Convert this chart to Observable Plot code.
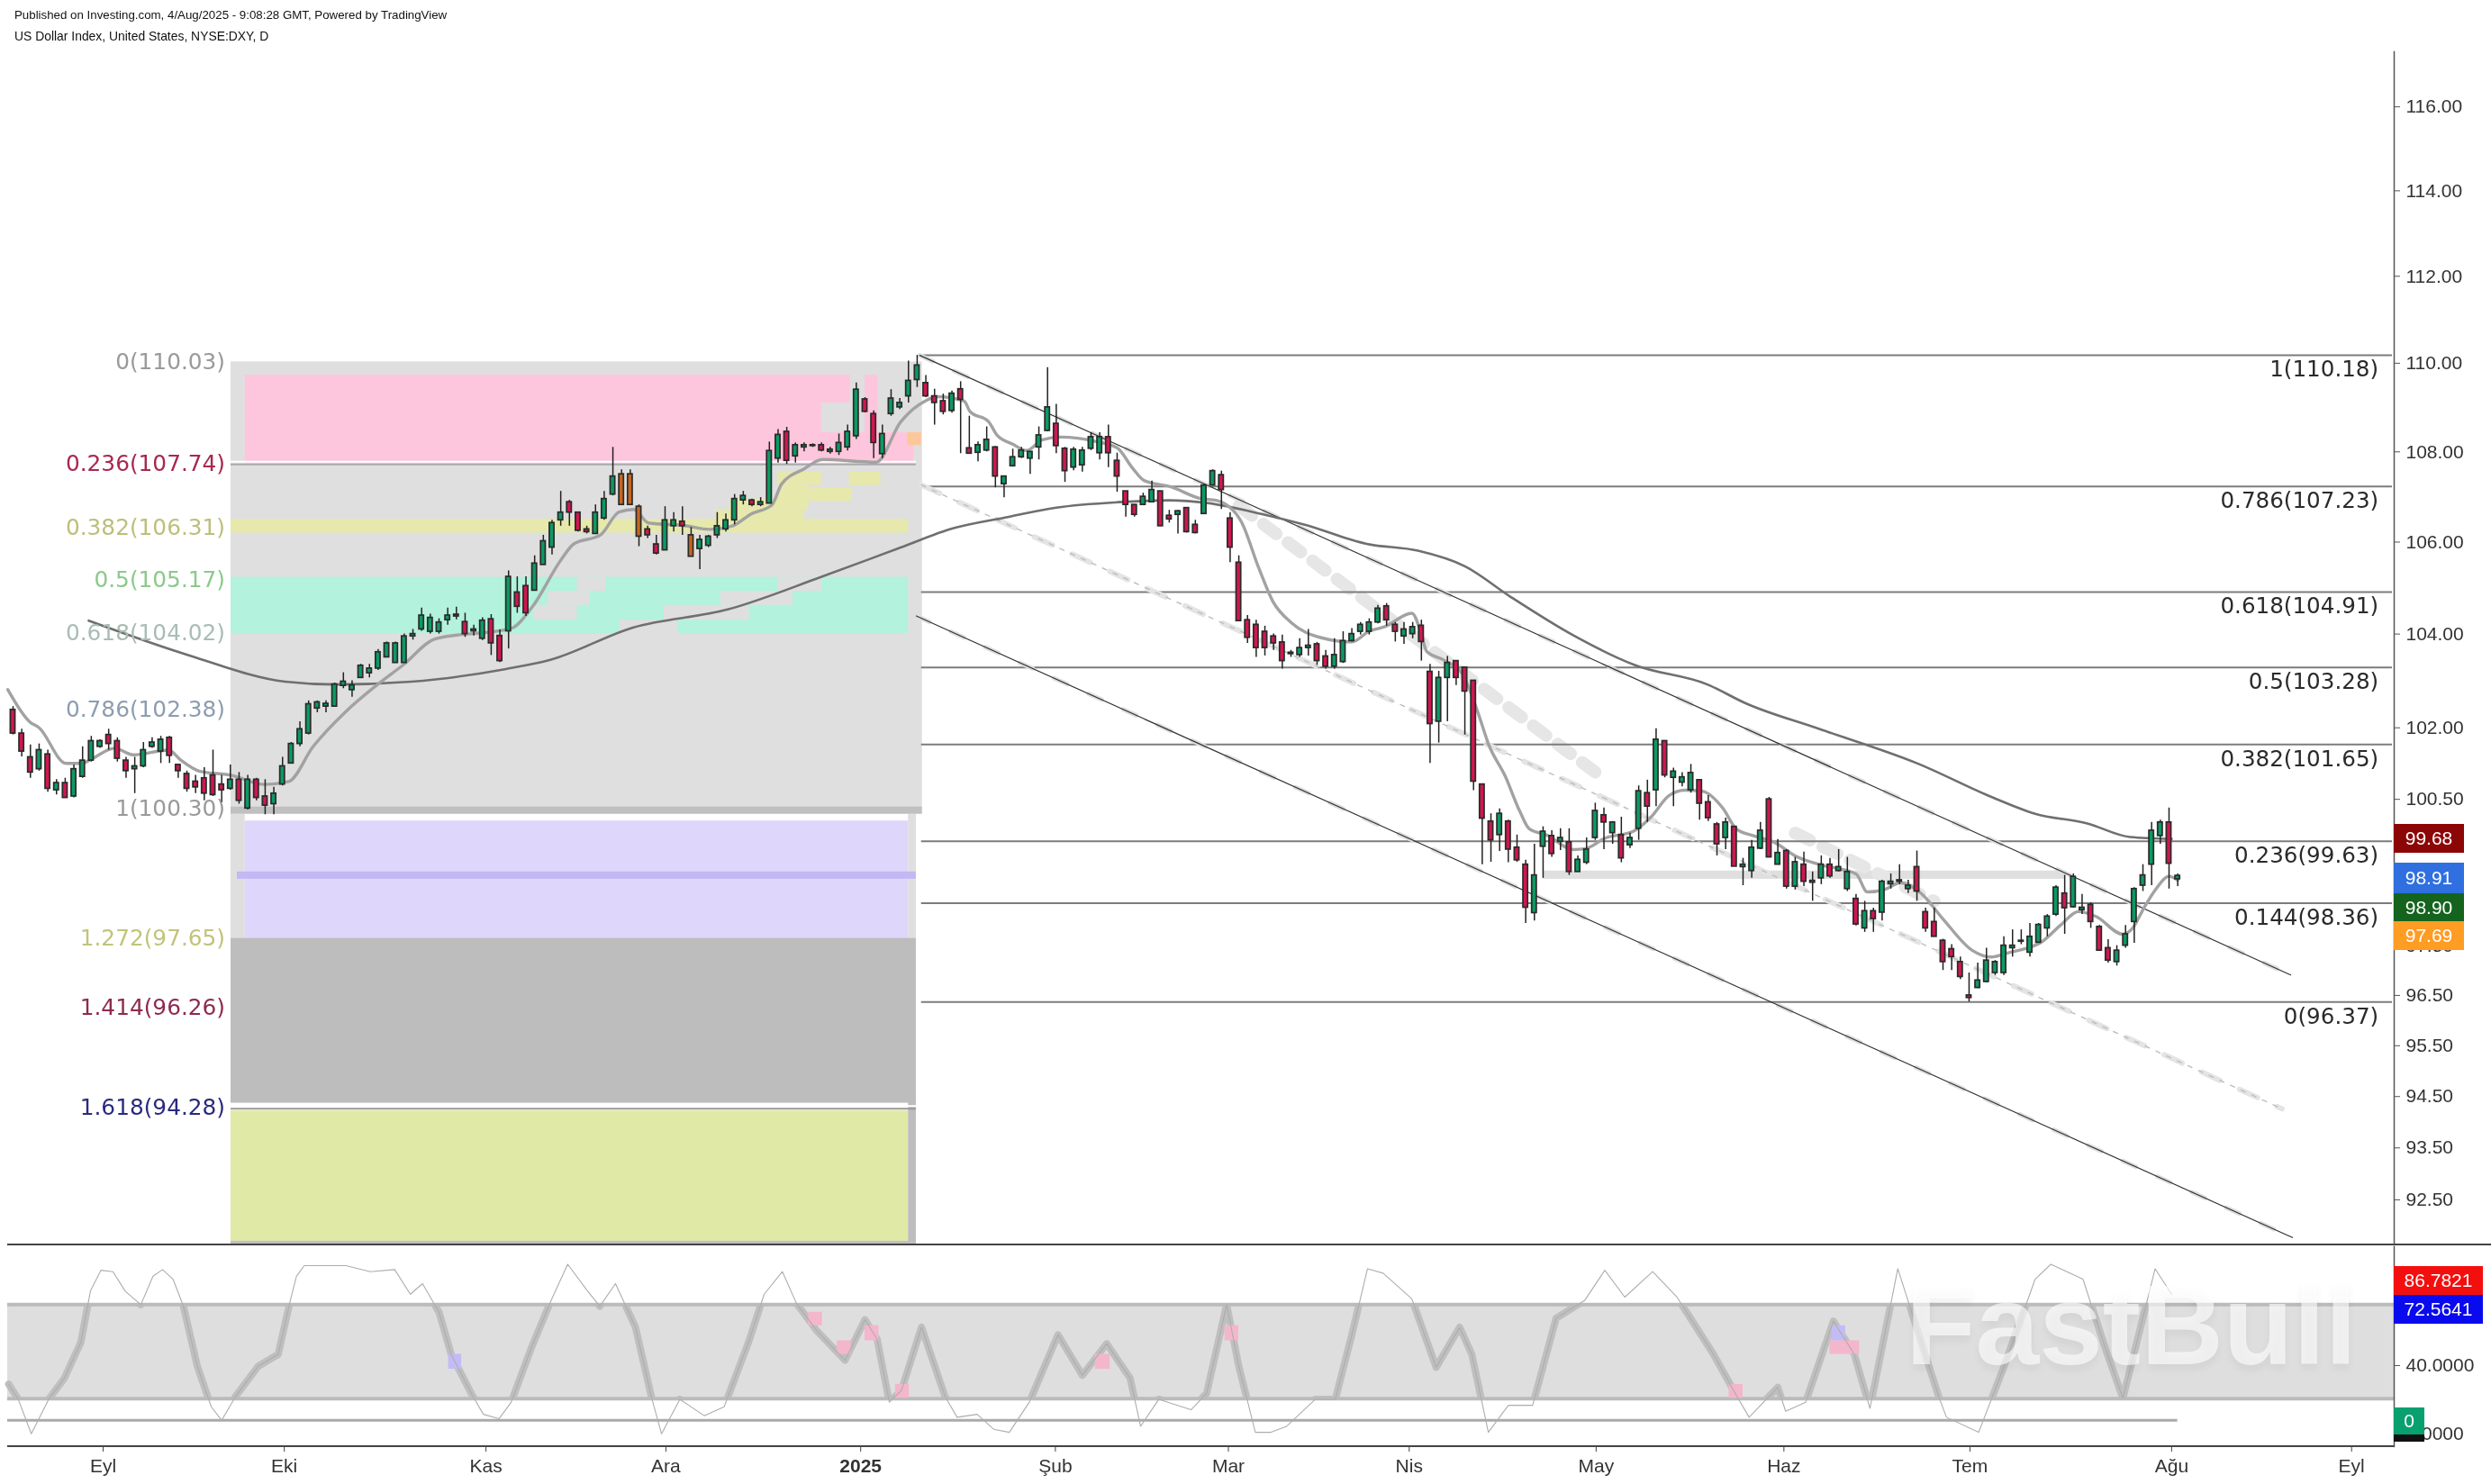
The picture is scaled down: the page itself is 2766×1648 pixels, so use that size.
<!doctype html>
<html><head><meta charset="utf-8">
<script src="https://cdn.jsdelivr.net/npm/d3@7"></script>
<script src="https://cdn.jsdelivr.net/npm/@observablehq/plot@0.6"></script>
<style>
html,body{margin:0;background:#fff}
#wrap{position:relative;width:2766px;height:1648px;overflow:hidden;background:#fff;filter:blur(.6px)}
#wrap svg{position:absolute;left:0}
.hd{position:absolute;left:16px;font:13.3px "Liberation Sans",sans-serif;color:#111;white-space:nowrap}
.sep{position:absolute;left:8px;right:0;height:2px;background:#444}
.box{position:absolute;left:2658px;width:78px;color:#fff;font:21px "Liberation Sans",sans-serif;text-align:center}
#wm{position:absolute;left:2116px;top:1402px;font:bold 127px/1.1 "Liberation Sans",sans-serif;color:rgba(255,255,255,.62);text-shadow:0 6px 10px rgba(0,0,0,.05);white-space:nowrap}
</style></head><body>
<div id="wrap"></div>
<script>
// ---- text
const publishedLine="Published on Investing.com, 4/Aug/2025 - 9:08:28 GMT, Powered by TradingView";
const symbolLine="US Dollar Index, United States, NYSE:DXY, D";

// ---- daily candles [open, high, low, close], month by month
const barsAug24=[[102.38,102.45,101.85,101.88],[101.88,101.97,101.39,101.50],[101.38,101.64,100.94,101.06],[101.13,101.66,101.09,101.53],[101.44,101.53,100.65,100.72],[100.69,100.91,100.59,100.84],[100.84,100.94,100.53,100.53],[100.56,101.22,100.53,101.13],[100.97,101.60,100.94,101.31],[101.31,101.82,101.28,101.72]];
const barsSep24=[[101.60,101.75,101.57,101.72],[101.85,101.97,101.53,101.66],[101.72,101.79,101.28,101.35],[101.31,101.38,100.94,101.09],[101.13,101.38,100.62,101.19],[101.19,101.69,101.16,101.53],[101.60,101.79,101.57,101.69],[101.50,101.82,101.25,101.75],[101.79,101.82,101.25,101.41],[101.22,101.22,100.94,101.09],[101.03,101.09,100.65,100.72],[100.87,101.00,100.62,100.75],[100.94,101.16,100.47,100.62],[101.00,101.53,100.56,100.59],[100.81,101.00,100.43,100.69],[100.72,101.22,100.69,100.91],[100.91,101.06,100.40,100.47],[100.31,101.00,100.28,100.91],[100.91,100.94,100.47,100.53],[100.56,100.91,100.18,100.37],[100.40,100.75,100.18,100.62]];
const barsOct24=[[100.81,101.38,100.78,101.19],[101.25,101.69,101.25,101.66],[101.66,102.13,101.60,101.97],[101.88,102.57,101.85,102.50],[102.41,102.57,102.32,102.54],[102.45,102.57,102.32,102.51],[102.45,102.95,102.45,102.92],[102.89,103.17,102.83,102.98],[102.80,103.00,102.65,102.90],[103.06,103.35,103.06,103.32],[103.16,103.35,103.06,103.26],[103.26,103.67,103.22,103.61],[103.50,103.83,103.50,103.80],[103.38,103.83,103.38,103.80],[103.38,104.00,103.38,103.95],[103.95,104.10,103.87,104.00],[104.10,104.56,104.06,104.40],[104.05,104.43,104.00,104.35],[104.05,104.33,104.00,104.25],[104.30,104.56,104.19,104.40],[104.42,104.58,104.31,104.38],[104.26,104.45,103.93,104.00],[104.06,104.19,103.96,104.10]];
const barsNov24=[[103.90,104.35,103.86,104.29],[104.32,104.42,103.54,103.80],[103.96,104.09,103.39,103.42],[104.06,105.37,103.68,105.24],[104.90,105.24,104.45,104.59],[105.04,105.24,104.38,104.45],[104.94,105.70,104.94,105.53],[105.50,106.15,105.50,106.02],[105.88,106.48,105.72,106.42],[106.48,107.12,106.35,106.65],[106.88,106.92,106.35,106.65],[106.65,106.65,106.22,106.25],[106.28,106.35,106.18,106.22],[106.18,106.82,106.18,106.65],[106.52,107.12,106.48,106.95],[107.05,108.10,107.02,107.45],[107.50,107.60,106.82,106.82],[107.50,107.60,106.82,106.82],[106.78,106.82,105.90,106.12],[106.28,106.35,106.08,106.15],[105.95,106.15,105.72,105.75]];
const barsDec24=[[105.82,106.78,105.82,106.48],[106.35,106.65,106.22,106.48],[106.45,106.78,106.15,106.35],[106.15,106.32,105.68,105.68],[105.85,106.15,105.40,106.05],[105.92,106.15,105.88,106.12],[106.15,106.65,106.08,106.35],[106.28,106.62,106.22,106.48],[106.48,107.05,106.38,106.95],[106.92,107.12,106.82,107.02],[106.92,106.95,106.78,106.82],[106.82,106.98,106.78,106.88],[106.85,108.22,106.85,108.02],[107.85,108.50,107.75,108.38],[108.45,108.55,107.72,107.80],[107.90,108.20,107.75,108.15],[108.10,108.20,108.00,108.15],[108.15,108.18,108.10,108.13],[108.15,108.20,108.00,108.03],[108.00,108.10,107.95,108.05],[108.00,108.40,107.92,108.20],[108.10,108.60,108.02,108.45]];
const barsJan25=[[108.35,109.55,108.28,109.40],[109.18,109.22,108.88,108.90],[108.85,108.92,107.85,108.20],[107.95,108.60,107.85,108.40],[108.85,109.40,108.80,109.20],[109.00,109.20,108.95,109.10],[109.25,110.05,109.10,109.60],[109.62,110.18,109.45,109.95],[109.55,109.72,109.22,109.25],[109.25,109.41,108.60,109.10],[109.14,109.30,108.83,108.90],[108.92,109.37,108.87,109.31],[109.41,109.58,107.96,109.17],[108.08,108.80,107.96,107.96],[107.98,108.22,107.78,108.15],[108.03,108.56,108.00,108.27],[108.10,108.12,107.20,107.45],[107.28,107.45,106.98,107.45],[107.68,108.06,107.66,107.88],[107.88,108.10,107.85,108.03],[107.85,108.00,107.50,108.00],[108.10,108.56,107.82,108.37]];
const barsFeb25=[[108.47,109.90,108.45,109.00],[108.63,109.07,107.96,108.13],[108.07,108.10,107.32,107.57],[107.65,108.10,107.58,108.05],[107.70,108.10,107.55,108.03],[108.07,108.43,108.03,108.33],[107.97,108.43,107.82,108.33],[108.33,108.60,107.65,107.97],[107.80,107.97,107.10,107.45],[107.12,107.12,106.55,106.82],[106.82,106.82,106.55,106.60],[106.82,107.08,106.82,107.00],[106.88,107.35,106.88,107.15],[107.12,107.12,106.35,106.35],[106.58,106.70,106.42,106.50],[106.60,106.70,106.18,106.68],[106.75,106.75,106.20,106.22],[106.38,106.48,106.18,106.20],[106.62,107.28,106.62,107.25],[107.25,107.60,107.25,107.57]];
const barsMar25=[[107.48,107.57,106.72,107.15],[106.52,106.65,105.55,105.88],[105.55,105.70,104.28,104.28],[104.30,104.40,103.80,103.92],[104.20,104.30,103.50,103.70],[104.05,104.17,103.53,103.70],[103.95,104.00,103.65,103.80],[103.82,103.98,103.25,103.42],[103.57,103.65,103.50,103.60],[103.55,103.90,103.50,103.70],[103.70,104.10,103.53,103.75],[103.78,103.82,103.33,103.42],[103.52,103.65,103.25,103.30],[103.30,103.90,103.25,103.55],[103.40,104.05,103.37,103.85],[103.85,104.12,103.83,104.00],[104.05,104.25,103.98,104.20],[104.05,104.33,103.98,104.25],[104.25,104.62,104.22,104.55],[104.60,104.66,104.17,104.30],[104.20,104.25,103.83,104.05]];
const barsApr25=[[103.95,104.25,103.78,104.10],[104.00,104.25,103.90,104.15],[104.18,104.30,103.42,103.83],[103.19,103.35,101.25,102.08],[102.13,103.20,101.68,103.06],[103.06,103.52,102.13,103.38],[103.42,103.42,102.90,103.06],[103.28,103.28,101.85,102.77],[103.00,103.00,100.68,100.87],[100.81,100.81,99.15,100.10],[100.04,100.20,99.20,99.65],[99.76,100.30,99.42,100.20],[100.04,100.07,99.19,99.46],[99.50,99.76,99.20,99.24],[99.15,99.24,97.95,98.27],[98.16,99.57,98.00,98.93],[99.52,99.93,98.87,99.83],[99.74,99.85,99.30,99.37],[99.62,99.89,99.44,99.70],[99.61,99.89,98.93,99.00],[99.00,99.33,99.02,99.25],[99.19,99.70,99.15,99.46]];
const barsMay25=[[99.70,100.42,99.65,100.26],[100.17,100.32,99.46,100.02],[99.80,100.04,99.57,100.02],[99.76,100.13,99.19,99.28],[99.55,99.80,99.48,99.70],[99.89,100.78,99.65,100.67],[100.63,100.90,100.02,100.35],[100.69,101.98,100.35,101.75],[101.72,101.72,100.95,101.00],[100.95,101.15,100.35,101.08],[100.85,101.06,100.76,100.96],[100.69,101.23,100.63,101.05],[100.90,100.90,100.07,100.41],[100.44,100.58,100.04,100.11],[99.98,100.02,99.33,99.57],[99.70,100.11,99.46,100.02],[99.93,99.94,99.11,99.11],[99.10,99.28,98.72,99.15],[99.02,99.65,98.87,99.50],[99.48,100.02,99.46,99.85],[100.50,100.54,99.30,99.30],[99.15,99.67,99.15,99.39]];
const barsJun25=[[99.43,99.46,98.65,98.70],[98.70,99.30,98.63,99.20],[99.15,99.41,98.70,98.80],[98.78,99.00,98.40,98.82],[98.87,99.33,98.74,99.15],[99.15,99.28,98.87,98.91],[99.02,99.46,99.00,99.10],[98.65,99.30,98.60,99.00],[98.45,98.54,97.90,97.93],[97.85,98.40,97.77,98.20],[98.20,98.26,97.77,98.04],[98.17,98.83,98.00,98.80],[98.75,98.96,98.65,98.80],[98.80,99.15,98.74,98.83],[98.65,98.83,98.56,98.72],[99.10,99.43,98.40,98.60],[98.18,98.26,97.77,97.85],[97.98,98.26,97.68,97.68],[97.60,97.63,97.00,97.17],[97.43,97.52,97.00,97.27],[97.17,97.27,96.82,96.87]];
const barsJul25=[[96.50,96.95,96.37,96.45],[96.65,97.15,96.64,96.80],[96.77,97.45,96.75,97.20],[96.95,97.20,96.90,97.17],[96.95,97.68,96.90,97.50],[97.45,97.82,97.27,97.50],[97.58,97.82,97.52,97.60],[97.36,97.95,97.27,97.68],[97.56,97.95,97.55,97.92],[97.85,98.13,97.68,98.09],[98.13,98.72,98.09,98.68],[98.56,98.93,97.73,98.26],[98.28,98.96,98.26,98.90],[98.22,98.54,98.13,98.27],[98.33,98.37,97.85,97.98],[97.88,97.91,97.40,97.40],[97.45,97.62,97.15,97.20],[97.17,97.50,97.09,97.40],[97.50,97.91,97.45,97.73],[97.98,98.68,97.55,98.65],[98.72,99.15,98.60,98.93],[99.15,100.02,98.72,99.85],[99.74,100.07,99.57,100.02]];
const barsAug25=[[100.02,100.32,98.65,99.17],[98.85,98.96,98.70,98.92]];
const allBars=[...barsAug24,...barsSep24,...barsOct24,...barsNov24,...barsDec24,...barsJan25,...barsFeb25,...barsMar25,...barsApr25,...barsMay25,...barsJun25,...barsJul25,...barsAug25];
const orangeBars=[70,71,72,78];

// ---- moving averages [bar, price]
const ma200=[[8.7,104.29],[20.3,103.54],[31.3,102.98],[37.1,102.92],[45.8,102.98],[56.7,103.25],[61.7,103.44],[71.3,104.14],[82.2,104.53],[93,105.24],[102.1,105.88],[108.1,106.30],[114.1,106.54],[120,106.76],[127.1,106.88],[133,106.92],[137.4,106.86],[143.6,106.62],[148.6,106.38],[155.7,105.96],[161.6,105.81],[167,105.47],[172.3,104.80],[179.4,103.98],[186.6,103.33],[194.9,102.92],[199.3,102.52],[207.7,101.98],[219.2,101.24],[227.7,100.54],[232.6,100.20],[238.6,100.00],[243.5,99.72],[248.3,99.68]];
const maShort=[[-.6,102.81],[1.9,102.13],[3,102],[6.1,101.25],[7.9,101.25],[9,101.34],[11.7,101.57],[13.8,101.43],[17.9,101.53],[19.3,101.32],[21.4,101.09],[25.2,101],[28.9,100.81],[31.7,100.87],[34.5,101.6],[38.2,102.33],[41.8,102.9],[44.9,103.34],[48.6,103.9],[57.3,104.12],[59.7,104.58],[63.1,105.63],[64.5,105.96],[67.6,106.16],[69.7,106.66],[71.4,106.72],[73.1,106.42],[77.3,106.36],[80.1,106.28],[82.8,106.36],[84.9,106.62],[87.3,106.82],[88.4,107.28],[91,107.62],[93.1,107.83],[99.3,107.77],[102.1,108.67],[103.2,108.9],[104.9,109.14],[106.3,109.24],[109.4,109.14],[110.1,108.9],[112.2,108.68],[113.2,108.37],[115,108.17],[116.6,108.03],[118.4,108.27],[120.5,108.33],[124.6,108.23],[127,108.09],[128.8,107.63],[130.1,107.36],[133.2,107.22],[136.6,106.96],[138.4,106.92],[141.2,106.48],[143.3,105.43],[144.9,104.71],[147,104.25],[150.5,103.92],[154,103.83],[156,104.06],[157.8,104.16],[160.9,104.45],[162,104],[162.6,103.63],[164.6,103.44],[166.7,103.15],[168.4,102.38],[169.8,101.62],[171.6,101],[173.3,100.26],[174.4,99.89],[176.4,99.76],[179.5,99.46],[180.9,99.48],[183.2,99.7],[186.3,99.83],[188.4,100.13],[190.5,100.58],[192.3,100.69],[194.3,100.67],[196.7,100.31],[198.2,99.89],[200.3,99.74],[202.6,99.61],[205,99.33],[207.8,99.15],[212,98.96],[213.3,98.59],[215.4,98.65],[217.1,98.78],[219.5,98.56],[222,98.04],[225.4,97.4],[227.5,97.27],[229.6,97.36],[233.4,97.58],[235.5,97.91],[237.6,98.19],[239.6,98.09],[242.7,97.73],[243.8,97.85],[245.1,98.26],[246.5,98.65],[248,98.91],[249,98.83]];

// ---- channel [bar1, price1, bar2, price2]
const channelTop=[104.3,110.18,262,96.91];
const channelMid=[104.5,107.26,261,94.26];
const channelLow=[103.9,104.39,262.2,91.78];
// pale blocky streaks beside the channel
const paleStreaks=[[141,106.8,183,100.93],[205,99.8,221,98.4]];

// ---- retracement drawn on the right (0 at the low)
const rightLevels=[110.18,107.23,104.91,103.28,101.65,99.63,98.36,96.37];
const rightNames=["1(110.18)","0.786(107.23)","0.618(104.91)","0.5(103.28)","0.382(101.65)","0.236(99.63)","0.144(98.36)","0(96.37)"];

// ---- retracement drawn on the left
const leftLevels=[110.03,107.74,106.31,105.17,104.02,102.38,100.30,97.65,96.26,94.28];
const leftNames=["0(110.03)","0.236(107.74)","0.382(106.31)","0.5(105.17)","0.618(104.02)","0.786(102.38)","1(100.30)","1.272(97.65)","1.414(96.26)","1.618(94.28)"];
const leftColors=["#9a9a9a","#a8284f","#bdbf7a","#8cc98c","#a9bdb4","#8d9db0","#9a9a9a","#c0c47a","#8e2a50","#2a2a80"];

// ---- shaded zones [bar1, bar2, price1, price2, colour]
const zoneColors={gray:"#dfdfdf",pink:"#fdc6dc",yel:"#e6e9ab",teal:"#b3f2dc",lav:"#dfd6fb",dark:"#bdbdbd",lime:"#e1e9a6",line:"#c0c0c0",lavLine:"#c3b8f3",peach:"#fcc89b"};
const zoneRows=[
 [25.07,104.6,110.03,100.3,"gray"],
 [26.7,96.3,109.73,109.1,"pink"],[26.7,93,109.1,108.43,"pink"],[26.7,103.6,108.43,107.74,"pink"],[98,99.5,109.73,108.43,"pink"],
 [102.9,104.5,108.43,108.14,"peach"],
 [82.5,88,106.95,106.7,"yel"],[80.8,91,106.7,106.5,"yel"],[88,91.5,107.25,106.7,"yel"],[91.5,96.5,107.2,106.9,"yel"],[88,93,107.55,107.25,"yel"],[96.2,99.8,107.55,107.25,"yel"],
 [25.07,103,106.5,106.2,"yel"],
 [25.07,103,105.23,104.0,"teal"],
 [64.9,68.2,105.23,104.92,"gray"],[88,93,105.23,104.92,"gray"],[61.5,66.4,104.92,104.62,"gray"],[81.4,89.7,104.92,104.62,"gray"],[59.9,64.9,104.62,104.3,"gray"],[74.9,84.7,104.62,104.3,"gray"],[69.8,76.5,104.3,104.0,"gray"],
 [25.07,26.7,100.19,97.65,"gray"],[103,103.9,100.19,97.65,"gray"],
 [26.7,103,100.05,97.65,"lav"],[25.8,103.9,99.0,98.85,"lavLine"],[176,236,99.02,98.85,"gray"],
 [25.07,103.9,97.65,94.37,"dark"],
 [25.07,103,94.22,91.71,"lime"],[103,103.9,94.4,91.64,"dark"],
 [25.07,104.6,100.34,100.19,"line"],[25.07,103.9,91.71,91.64,"line"]
];

// ---- axes
const priceTicks=[116,114,112,110,108,106,104,102,100.5,97.5,96.5,95.5,94.5,93.5,92.5];
const tickBars=[10.36,31.2,54.4,75.1,97.5,119.9,139.8,160.6,182.1,203.7,225.1,248.3,269];
const tickLabels=["Eyl","Eki","Kas","Ara","2025","Şub","Mar","Nis","May","Haz","Tem","Ağu","Eyl"];
const oscTicks=[40,0];

// ---- last-value tags [text, background]
const priceTags=[["99.68","#8c0606"],["98.91","#2f6fe0"],["98.90","#14641e"],["97.69","#ff9c24"]];
const oscTags=[["86.7821","#f40f0f"],["72.5641","#0a0aee"]];

// ---- stochastic oscillator [bar, value]
const stoch=[[-.5,29.1],[.6,20.3],[2.1,.1],[4.1,20.3],[5.9,32.6],[7.8,53.6],[8.9,83.5],[10.1,95.7],[11.5,94.9],[12.9,83.5],[14.7,75.6],[16.1,92.2],[17.2,96.1],[18.4,90.5],[19.6,74.7],[21.2,39.6],[22.8,15.9],[24,8],[25.6,22],[28.2,39.6],[30.5,46.6],[31.9,78.2],[32.6,92.2],[33.5,98.4],[38.3,98.4],[41.1,94.9],[43.9,96.1],[45.7,81.7],[47.1,87.9],[49,71.2],[50.4,46.6],[52.7,23.8],[54.1,11.5],[55.9,8.9],[57.3,18.6],[59.6,50.1],[61.9,78.2],[63.8,99.2],[66.1,83.5],[67.5,74.7],[69.3,87.9],[71.6,62.4],[73.5,20.3],[74.6,.1],[76.7,20.3],[79.5,10.7],[81.8,15.9],[84.6,53.6],[86.4,81.7],[88.5,94.9],[90.1,76.5],[92.4,60.7],[95.7,43.1],[98,66.8],[99.4,55.4],[100.8,18.6],[102.2,25.6],[104.5,62.4],[107.2,22],[108.6,9.8],[110.9,11.5],[112.8,2.8],[114.6,1],[116.9,18.6],[120.2,58],[123,34.3],[125.8,52.8],[128.5,32.6],[129.7,4.5],[131.8,20.3],[135.5,14.2],[137.3,23.8],[139.6,75.6],[141,39.6],[142.9,1],[144.7,1],[146.5,4.5],[149.8,20.3],[152.1,20.3],[154,58],[155.8,96.6],[157.6,94],[160.9,79],[163.7,39],[166.4,62.4],[167.8,46.6],[169.7,1],[172,16.8],[174.8,16.8],[177.5,67.7],[180.8,78.2],[183.1,95.7],[185.4,80],[188.6,94.9],[191.4,80],[195.6,46.6],[198.3,22],[199.7,9.8],[203,27.3],[203.9,13.3],[206.2,18.6],[209.4,66],[211.8,46.6],[213.6,15],[216.8,96.6],[221.5,22],[222.4,9.8],[226.1,1],[228.9,37.8],[232.6,90.5],[234.4,99.2],[238.1,90.5],[240.9,46.6],[242.7,21],[246.4,96.6],[248.3,81.7]];
const oscBand=[20.6,75.6];
const oscLevel=8;
const oscMarks=[[91.5,93.1,71.2,63.3,"#f4b6cc"],[94.8,96.4,54.5,46.6,"#f4b6cc"],[98,99.6,63.3,54.5,"#f4b6cc"],[101.5,103.1,29,21,"#f4b6cc"],[124.5,126.2,46.6,37.9,"#f4b6cc"],[139.4,141,63.3,54.5,"#f4b6cc"],[197.4,199,29,21,"#f4b6cc"],[209,212.4,54.5,46.6,"#f4b6cc"],[50.1,51.6,46.6,37.9,"#c3bcf4"],[209.2,210.8,63.3,54.5,"#c3bcf4"]];

// ---- assemble
const wrap=document.getElementById("wrap");
const xDomain=[-0.62,273.9];
const fontStyle={fontFamily:'"Liberation Sans",sans-serif',fontSize:"21px",color:"#333",background:"transparent",overflow:"visible"};
const bars=allBars.map((r,i)=>({i,open:r[0],high:r[1],low:r[2],close:r[3]}));
const fibFont="DejaVu Sans";
const channelMark=(c,opts)=>Plot.line([[c[0],c[1]],[c[2],c[3]]],{x:"0",y:"1",...opts});
const isOrange=new Set(orangeBars);

const main=Plot.plot({
  width:2766,height:1384,marginTop:57,marginBottom:2,marginLeft:8,marginRight:108,style:fontStyle,
  x:{domain:xDomain,axis:null},
  y:{type:"log",domain:[91.64,117.33],axis:null},
  marks:[
    Plot.rect(zoneRows,{x1:"0",x2:"1",y1:"2",y2:"3",fill:d=>zoneColors[d[4]]}),
    Plot.ruleY([107.74],{x1:25.07,x2:103.9,stroke:"#fff",strokeWidth:2,dy:-2}),
    Plot.ruleY([107.74],{x1:25.07,x2:103.9,stroke:"#aaa",strokeWidth:2,dy:1}),
    Plot.ruleY([94.28],{x1:25.07,x2:103.9,stroke:"#fff",strokeWidth:2,dy:-2}),
    Plot.ruleY([94.28],{x1:25.07,x2:103.9,stroke:"#999",strokeWidth:2,dy:1}),
    ...paleStreaks.map(s=>channelMark(s,{stroke:"#e6e6e6",strokeWidth:14,strokeDasharray:"18 16"})),
    Plot.ruleY(rightLevels,{x1:104.5,x2:273.7,stroke:"#7c7c7c",strokeWidth:2}),
    channelMark(channelTop,{stroke:"#dedede",strokeWidth:5,strokeDasharray:"16 26"}),
    channelMark(channelLow,{stroke:"#dedede",strokeWidth:5,strokeDasharray:"16 26"}),
    channelMark(channelMid,{stroke:"#e4e4e4",strokeWidth:6,strokeDasharray:"22 24"}),
    channelMark(channelMid,{stroke:"#bdbdbd",strokeWidth:1.4,strokeDasharray:"5 8"}),
    channelMark(channelTop,{stroke:"#333",strokeWidth:1.2}),
    channelMark(channelLow,{stroke:"#333",strokeWidth:1.2}),
    Plot.line(ma200,{x:"0",y:"1",stroke:"#6f6f6f",strokeWidth:2.6,curve:"monotone-x"}),
    Plot.line(maShort,{x:"0",y:"1",stroke:"#a2a2a2",strokeWidth:3.4,curve:"monotone-x"}),
    Plot.ruleX(bars,{x:"i",y1:"low",y2:"high",stroke:"#222",strokeWidth:1.5}),
    Plot.rect(bars,{x1:d=>d.i-.27,x2:d=>d.i+.27,y1:"open",y2:"close",stroke:"#2a2a2a",strokeWidth:1.7,
      fill:d=>isOrange.has(d.i)?"#c8651e":d.close>=d.open?"#0b9a63":"#d0174f"}),
    Plot.text(leftLevels,{x:24.4,y:d=>d,text:(d,i)=>leftNames[i],fill:(d,i)=>leftColors[i],textAnchor:"end",fontSize:24.8,fontFamily:fibFont}),
    Plot.text(rightLevels,{x:272.1,y:d=>d,text:(d,i)=>rightNames[i],fill:"#2a2a2a",textAnchor:"end",fontSize:24.6,fontFamily:fibFont,dy:16}),
    Plot.frame({anchor:"right",stroke:"#555",strokeWidth:1.5}),
    Plot.axisY(priceTicks,{anchor:"right",tickFormat:d3.format(".2f"),tickSize:6,tickPadding:7,label:null,fontSize:21,stroke:"#555",fill:"#333",textDy:1})
  ]
});
main.style.top="0";
wrap.append(main);

const oscY=[-7.37,109.47];
const osc=Plot.plot({
  width:2766,height:264,marginTop:0,marginBottom:42,marginLeft:8,marginRight:108,style:fontStyle,
  x:{domain:xDomain,axis:null},
  y:{domain:oscY,axis:null},
  marks:[
    Plot.rect([oscBand],{x1:xDomain[0],x2:xDomain[1],y1:"0",y2:"1",fill:"#dedede"}),
    Plot.line(stoch,{x:"0",y:"1",stroke:"#bfbfbf",strokeWidth:8}),
    Plot.rect([[oscBand[1],oscY[1]],[oscY[0],oscBand[0]]],{x1:xDomain[0],x2:xDomain[1],y1:"0",y2:"1",fill:"#fff"}),
    Plot.ruleY(oscBand,{stroke:"#bbb",strokeWidth:4}),
    Plot.ruleY([oscLevel],{x1:xDomain[0],x2:249,stroke:"#aaa",strokeWidth:3}),
    Plot.rect(oscMarks,{x1:"0",x2:"1",y1:"2",y2:"3",fill:"4"}),
    Plot.line(stoch,{x:"0",y:"1",stroke:"#adadad",strokeWidth:1.1}),
    Plot.frame({anchor:"right",stroke:"#555",strokeWidth:1.5}),
    Plot.axisY(oscTicks,{anchor:"right",tickFormat:d3.format(".4f"),tickSize:6,tickPadding:7,label:null,fontSize:21,stroke:"#555",fill:"#333"}),
    Plot.axisX(tickBars,{tickFormat:d=>tickLabels[tickBars.indexOf(d)],tickSize:6,tickPadding:8,label:null,fontSize:21,stroke:"#444",fill:"#333"})
  ]
});
osc.style.top="1384px";
wrap.append(osc);
d3.select(osc).selectAll("text").filter(function(){return this.textContent==="2025"}).style("font-weight","bold");

// header, separators, watermark, tags
const add=(cls,txt,css)=>{const e=document.createElement("div");e.className=cls;e.textContent=txt;Object.assign(e.style,css||{});wrap.append(e);return e;};
add("hd",publishedLine,{top:"9px"});
add("hd",symbolLine,{top:"32px",fontSize:"13.9px"});
add("sep","",{top:"1381px"});
add("sep","",{top:"1605px",right:"108px"});
add("","FastBull").id="wm";
const y0=main.scale("y").apply(99.68);
const tagBoxes=[[y0-16,32],[y0+27,34],[y0+61,31],[y0+92,32]];
priceTags.forEach((t,i)=>add("box",t[0],{top:tagBoxes[i][0]+"px",height:tagBoxes[i][1]+"px",lineHeight:tagBoxes[i][1]+"px",background:t[1]}));
const oy=1384+osc.scale("y").apply(72.5641);
oscTags.forEach((t,i)=>add("box",t[0],{left:"2658px",width:"99px",top:(oy-48+32*i)+"px",height:"32px",lineHeight:"32px",background:t[1]}));
add("box","0",{width:"34px",top:"1563px",height:"30px",lineHeight:"30px",background:"#08a06e"});
add("box","",{width:"34px",top:"1593px",height:"8px",background:"#111"});
</script>
</body></html>
